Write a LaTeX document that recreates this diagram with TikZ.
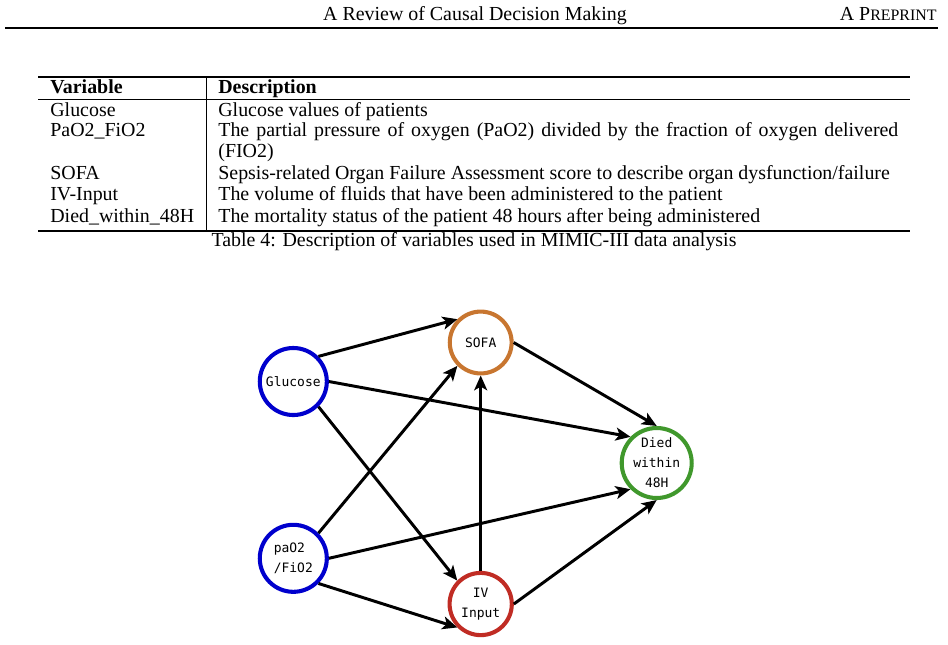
\documentclass[tikz,border=0pt]{standalone}
\usepackage{fontspec}
\setmainfont{Liberation Serif}
\newfontfamily\codefont{DejaVu Sans Mono}
\usepackage{xcolor}
\usetikzlibrary{arrows.meta,positioning}
\definecolor{gluBlue}{RGB}{0,0,205}
\definecolor{sofaOrange}{RGB}{200,118,48}
\definecolor{ivRed}{RGB}{192,44,36}
\definecolor{diedGreen}{RGB}{64,152,44}
\tikzset{
  var/.style={circle, draw, line width=2.2pt, inner sep=0pt, align=center,
    font=\codefont\fontsize{7}{10.8}\selectfont},
  cause/.style={-{Stealth[length=8pt,width=7pt,inset=2pt]}, line width=1.6pt},
  cell/.style={anchor=base west, inner sep=0pt, font=\fontsize{10.75}{13}\selectfont},
  hrule/.style={line width=0.8pt},
  thinrule/.style={line width=0.45pt}
}

\begin{document}
\begin{tikzpicture}[x=0.54pt, y=-0.54pt]
  \useasboundingbox (0,0) rectangle (948,644);

  % running head
  \node[cell, anchor=base] (title) at (475,20) {A Review of Causal Decision Making};
  \node[cell, anchor=base east] (pre) at (937,20) {A P{\fontsize{8.6}{10}\selectfont REPRINT}};
  \coordinate (hl) at (5,28);
  \coordinate (hr) at (938,28);
  \draw[line width=0.6pt] (hl) -- (hr);

  % table
  \coordinate (tl) at (38,77);
  \coordinate (tr) at (910,77);
  \coordinate (ml) at (38,99);
  \coordinate (mr) at (910,99);
  \coordinate (bl) at (38,231);
  \coordinate (br) at (910,231);
  \coordinate (vt) at (206,77);
  \coordinate (vb) at (206,231);
  \draw[hrule] (tl) -- (tr);
  \draw[thinrule] (ml) -- (mr);
  \draw[hrule] (bl) -- (br);
  \draw[thinrule] (vt) -- (vb);

  \node[cell] (hVar) at (50,93) {\textbf{Variable}};
  \node[cell] (hDesc) at (218,93) {\textbf{Description}};
  \node[cell] (vGlu) at (50,116) {Glucose};
  \node[cell] (dGlu) at (218,116) {Glucose values of patients};
  \node[cell] (vPao) at (50,136) {PaO2\_FiO2};
  \node[cell] (dPao) at (218,136) {\makebox[367.2pt][s]{The partial pressure of oxygen (PaO2) divided by the fraction of oxygen delivered}};
  \node[cell] (dPao2) at (218,157) {(FIO2)};
  \node[cell] (vSofa) at (50,179) {SOFA};
  \node[cell] (dSofa) at (218,179) {Sepsis-related Organ Failure Assessment score to describe organ dysfunction/failure};
  \node[cell] (vIv) at (50,200.5) {IV-Input};
  \node[cell] (dIv) at (218,200.5) {The volume of fluids that have been administered to the patient};
  \node[cell] (vDied) at (50,222) {Died\_within\_48H};
  \node[cell] (dDied) at (218,222) {The mortality status of the patient 48 hours after being administered};
  \node[cell, anchor=base] (cap) at (474,246) {Table 4: Description of variables used in MIMIC-III data analysis};

  % causal graph
  \node[var, draw=gluBlue, minimum size=36.2pt] (glu) at (293.3,381.5) {Glucose};
  \node[var, draw=gluBlue, minimum size=36.2pt, align=left] (pao) at (293.3,558.3) {paO2\\/FiO2};
  \node[var, draw=sofaOrange, minimum size=33.4pt] (sofa) at (480.7,342.5) {SOFA};
  \node[var, draw=ivRed, minimum size=33.6pt] (iv) at (480.7,604) {IV\\Input};
  \node[var, draw=diedGreen, minimum size=37.8pt] (died) at (656.7,463) {Died\\within\\48H};

  \draw[cause] (glu.45) -- (sofa.135);
  \draw[cause] (glu.0) -- (died.135);
  \draw[cause] (glu.-45) -- (iv.135);
  \draw[cause] (pao.45) -- (sofa.225);
  \draw[cause] (pao.0) -- (died.225);
  \draw[cause] (pao.-45) -- (iv.225);
  \draw[cause] (iv.90) -- (sofa.270);
  \draw[cause] (sofa.0) -- (died.90);
  \draw[cause] (iv.0) -- (died.270);
\end{tikzpicture}
\end{document}
